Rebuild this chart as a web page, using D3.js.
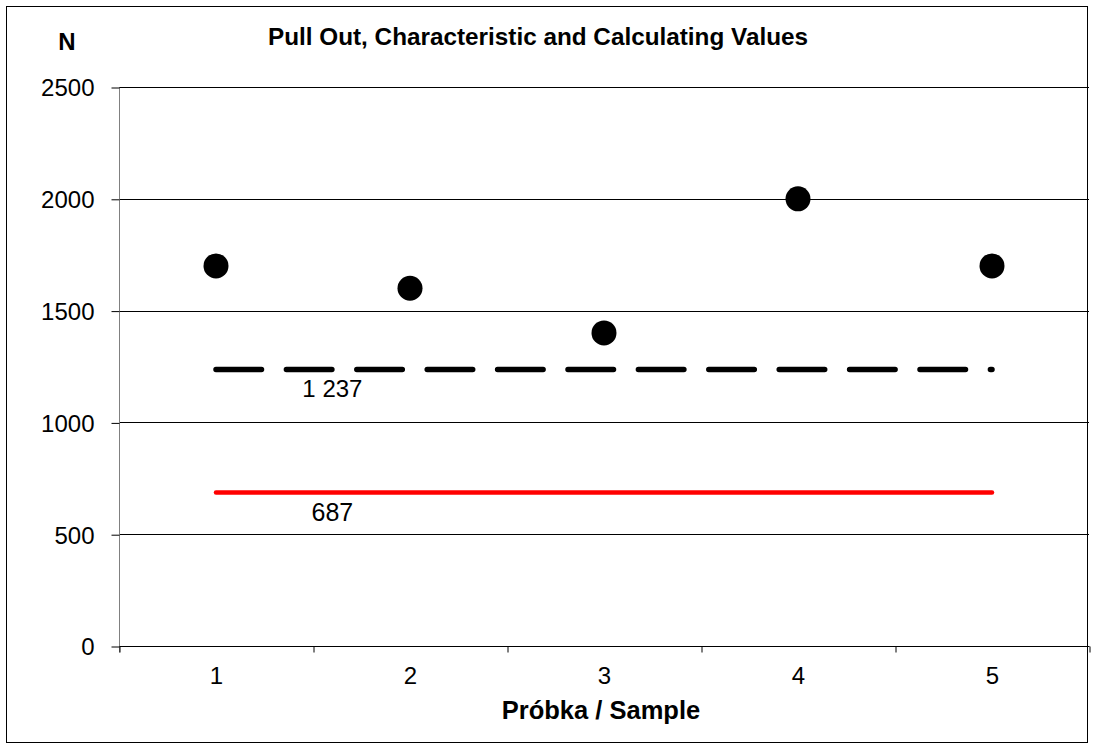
<!DOCTYPE html>
<html>
<head>
<meta charset="utf-8">
<script src="https://cdn.jsdelivr.net/npm/d3@7"></script>
<style>
  body { margin: 0; background: #fff; }
  svg text { font-family: "Liberation Sans", Arial, sans-serif; fill: #000; }
</style>
</head>
<body>
<script>
// chart values
var samples = [1, 2, 3, 4, 5];
var pullOut = [1700, 1600, 1400, 2000, 1700];
var characteristic = 1237;
var calculating = 687;
var yTicks = [0, 500, 1000, 1500, 2000, 2500];
var sampleEdges = [0.5, 1.5, 2.5, 3.5, 4.5, 5.5];

var svg = d3.select("body")
    .append("svg")
    .attr("width", 1093)
    .attr("height", 749);

// outer frame
svg.append("rect")
    .attr("x", 6.5).attr("y", 6.5)
    .attr("width", 1081).attr("height", 736)
    .attr("fill", "none").attr("stroke", "#000");

var xScale = d3.scaleLinear().domain([0.5, 5.5]).range([119, 1089]);
var yScale = d3.scaleLinear().domain([0, 2500]).range([646, 87]);

// gridlines
svg.append("g")
    .selectAll("line")
    .data(yTicks.filter(function(d) { return d > 0; }))
    .enter()
    .append("line")
    .attr("x1", 119).attr("x2", 1089)
    .attr("y1", function(d) { return Math.round(yScale(d)) + 0.5; })
    .attr("y2", function(d) { return Math.round(yScale(d)) + 0.5; })
    .attr("stroke", "#000");

// y axis
var yAxis = d3.axisLeft(yScale).tickValues(yTicks).tickSize(8).tickPadding(17)
    .tickFormat(d3.format("d"));
var gy = svg.append("g").attr("transform", "translate(119.5,0.5)").call(yAxis);
gy.select(".domain").attr("stroke", "#808080")
    .attr("d", "M0," + (yScale(2500)) + "V" + (yScale(0) + 6));
gy.selectAll(".tick line").attr("stroke", "#000");
gy.selectAll(".tick text").attr("font-size", 24).attr("dy", "0.35em")
    .style("font-family", "Liberation Sans, Arial, sans-serif");

// x axis: ticks at sample boundaries, labels at centres
var xAxis = d3.axisBottom(xScale).tickValues(sampleEdges).tickSize(6).tickFormat("");
var gx = svg.append("g").attr("transform", "translate(0.5," + (yScale(0) + 0.5) + ")").call(xAxis);
gx.select(".domain").attr("stroke", "#000").attr("d", "M" + xScale(0.5) + ",0H" + xScale(5.5));
gx.selectAll(".tick line").attr("stroke", "#000");

var xLabels = d3.axisBottom(xScale).tickValues(samples).tickSize(0).tickPadding(21)
    .tickFormat(d3.format("d"));
var gxl = svg.append("g").attr("transform", "translate(0," + yScale(0) + ")").call(xLabels);
gxl.select(".domain").remove();
gxl.selectAll(".tick text").attr("font-size", 24)
    .style("font-family", "Liberation Sans, Arial, sans-serif");

// characteristic value (dashed)
svg.append("line")
    .attr("x1", xScale(samples[0])).attr("x2", xScale(samples[samples.length - 1]))
    .attr("y1", yScale(characteristic)).attr("y2", yScale(characteristic))
    .attr("stroke", "#000").attr("stroke-width", 5.5)
    .attr("stroke-linecap", "round")
    .attr("stroke-dasharray", "45.5,24.9");

// calculating value (red)
svg.append("line")
    .attr("x1", xScale(samples[0])).attr("x2", xScale(samples[samples.length - 1]))
    .attr("y1", yScale(calculating)).attr("y2", yScale(calculating))
    .attr("stroke", "#ff0000").attr("stroke-width", 4.5)
    .attr("stroke-linecap", "round");

// value labels
svg.append("text")
    .attr("x", xScale(1.6)).attr("y", yScale(characteristic) + 28)
    .attr("text-anchor", "middle").attr("font-size", 24)
    .text(d3.format(",")(characteristic).replace(",", " "));
svg.append("text")
    .attr("x", xScale(1.6)).attr("y", yScale(calculating) + 29)
    .attr("text-anchor", "middle").attr("font-size", 25)
    .text(calculating);

// pull out points
svg.append("g")
    .selectAll("circle")
    .data(pullOut)
    .enter()
    .append("circle")
    .attr("cx", function(d, i) { return xScale(samples[i]); })
    .attr("cy", function(d) { return yScale(d); })
    .attr("r", 12.5)
    .attr("fill", "#000");

// titles
svg.append("text")
    .attr("x", 538).attr("y", 45)
    .attr("text-anchor", "middle").attr("font-size", 24.3).attr("font-weight", "bold")
    .text("Pull Out, Characteristic and Calculating Values");
svg.append("text")
    .attr("x", 67).attr("y", 50)
    .attr("text-anchor", "middle").attr("font-size", 24).attr("font-weight", "bold")
    .text("N");
svg.append("text")
    .attr("x", 601).attr("y", 719)
    .attr("text-anchor", "middle").attr("font-size", 25.5).attr("font-weight", "bold")
    .text("Próbka / Sample");
</script>
</body>
</html>
